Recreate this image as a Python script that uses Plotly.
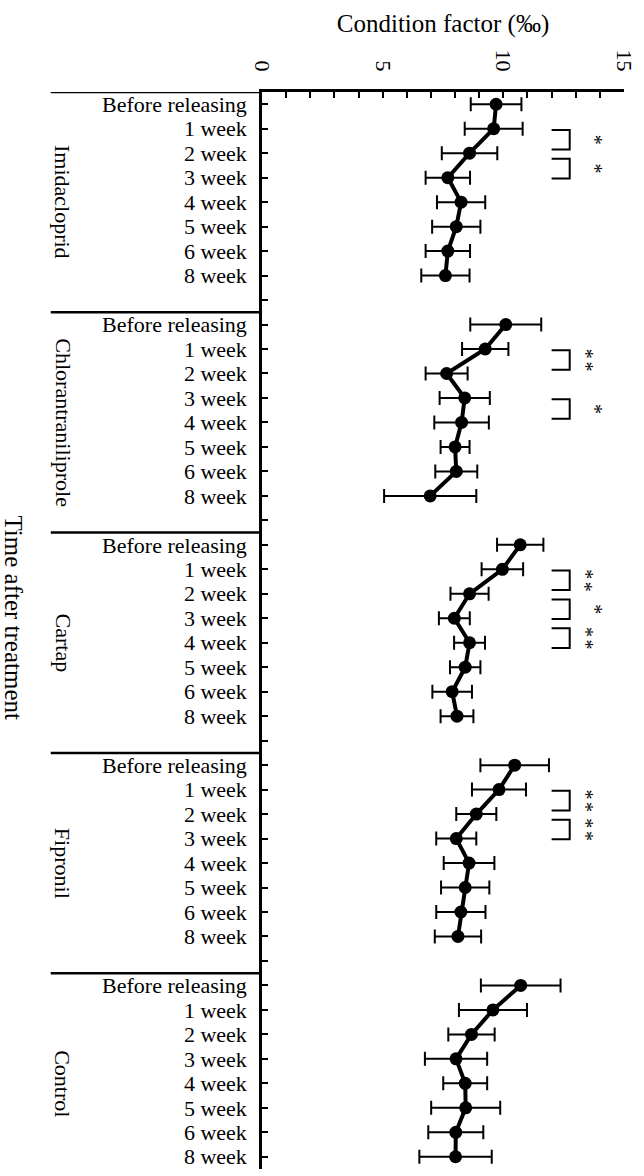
import plotly.graph_objects as go

# ---- data -------------------------------------------------------------
treatments = ["Imidacloprid", "Chlorantraniliprole", "Cartap", "Fipronil", "Control"]
timepoints = ["Before releasing", "1 week", "2 week", "3 week",
              "4 week", "5 week", "6 week", "8 week"]

cf_imidacloprid = [9.70, 9.60, 8.60, 7.70, 8.25, 8.05, 7.70, 7.60]
sd_imidacloprid = [1.05, 1.20, 1.15, 0.92, 1.00, 1.00, 0.92, 1.00]

cf_chlorantraniliprole = [10.10, 9.25, 7.65, 8.40, 8.27, 8.00, 8.05, 6.97]
sd_chlorantraniliprole = [1.47, 0.96, 0.87, 1.04, 1.13, 0.60, 0.87, 1.91]

cf_cartap = [10.70, 9.96, 8.60, 7.97, 8.60, 8.42, 7.88, 8.08]
sd_cartap = [0.96, 0.86, 0.79, 0.64, 0.64, 0.63, 0.82, 0.68]

cf_fipronil = [10.47, 9.82, 8.88, 8.05, 8.58, 8.42, 8.24, 8.12]
sd_fipronil = [1.42, 1.12, 0.83, 0.83, 1.05, 1.00, 1.02, 0.96]

cf_control = [10.72, 9.57, 8.68, 8.04, 8.42, 8.44, 8.03, 8.02]
sd_control = [1.65, 1.41, 0.96, 1.29, 0.91, 1.43, 1.14, 1.50]

# significant differences between consecutive time points: (from index, to index, mark)
sig_imidacloprid = [(1, 2, "*"), (2, 3, "*")]
sig_chlorantraniliprole = [(1, 2, "**"), (3, 4, "*")]
sig_cartap = [(1, 2, "**"), (2, 3, "*"), (3, 4, "**")]
sig_fipronil = [(1, 2, "**"), (2, 3, "**")]
sig_control = []

means = [cf_imidacloprid, cf_chlorantraniliprole, cf_cartap, cf_fipronil, cf_control]
sds = [sd_imidacloprid, sd_chlorantraniliprole, sd_cartap, sd_fipronil, sd_control]
sigs = [sig_imidacloprid, sig_chlorantraniliprole, sig_cartap, sig_fipronil, sig_control]

# ---- layout helpers -----------------------------------------------------
FONT = "Liberation Serif"
n_t = len(timepoints)
step = n_t + 1                      # one empty slot between treatment blocks
last_slot = step * len(treatments) - 2

W, H = 644, 1176
ML, MR, MT, MB = 262, 17, 92, 7
plot_w = W - ML - MR
left_edge = (49 - ML) / plot_w      # left end of the block separators (paper units)

fig = go.Figure()

tickvals, ticktext = [], []
for g, name in enumerate(treatments):
    base = g * step
    ys = [base + i for i in range(n_t)]
    fig.add_trace(go.Scatter(
        x=means[g], y=ys, mode="lines+markers",
        line=dict(color="black", width=4),
        marker=dict(color="black", size=13),
        error_x=dict(type="data", array=sds[g], symmetric=True,
                     color="black", thickness=2, width=7),
        name=name, hoverinfo="x+y",
    ))
    tickvals += ys
    ticktext += timepoints
    if base + n_t <= last_slot:
        tickvals.append(base + n_t)
        ticktext.append("")

    # treatment name, centred in its block
    fig.add_annotation(
        x=(60 - ML) / plot_w, xref="paper", y=base + (step - 1) / 2, yref="y",
        xshift=-13,
        text=name, textangle=90, showarrow=False,
        font=dict(family=FONT, size=22, color="#000000"),
    )

    # significance brackets and asterisks
    prev_end = None
    for a, b, mark in sigs[g]:
        y0 = base + a + 0.05
        if prev_end is not None and y0 < prev_end + 0.38:
            y0 = prev_end + 0.38
        y1 = y0 + 0.8
        prev_end = y1
        fig.add_shape(
            type="path", xref="x", yref="y",
            path=f"M 12.0 {y0} L 12.75 {y0} L 12.75 {y1} L 12.0 {y1}",
            line=dict(color="black", width=2),
        )
        n = len(mark)
        xs = 13.8 if n == 1 else 13.42
        for k in range(n):
            fig.add_annotation(
                x=xs, xref="x", y=(y0 + y1) / 2, yref="y",
                yshift=-(k - (n - 1) / 2) * 12.6,
                text="*", textangle=90, showarrow=False,
                font=dict(family=FONT, size=20, color="#000000"),
            )

# block separators on the category side
for g in range(len(treatments) + 1):
    ysep = g * step - 0.5
    fig.add_shape(type="line", xref="paper", yref="y",
                  x0=left_edge, x1=0, y0=ysep, y1=ysep,
                  line=dict(color="black", width=2.5))

fig.add_annotation(
    x=(9 - ML) / plot_w, xref="paper", y=(H - MB - 618) / (H - MT - MB), yref="paper",
    xshift=-13,
    text="Time after treatment", textangle=90, showarrow=False,
    font=dict(family=FONT, size=25, color="#000000"),
)

x_ticks = list(range(0, 16))
fig.update_layout(
    width=W, height=H,
    margin=dict(l=ML, r=MR, t=MT, b=MB),
    paper_bgcolor="white", plot_bgcolor="white",
    showlegend=False,
    font=dict(family=FONT, size=22, color="black"),
    xaxis=dict(
        side="top", range=[0, 15],
        tickvals=x_ticks, ticktext=[str(v) if v % 5 == 0 else "" for v in x_ticks],
        tickangle=90, ticks="inside", ticklen=6, tickwidth=2, tickcolor="black",
        showline=True, linewidth=2.5, linecolor="black",
        showgrid=False, zeroline=False,
        ticklabelstandoff=10,
        tickfont=dict(family=FONT, size=22),
        title=dict(text="Condition factor (‰)", standoff=10,
                   font=dict(family=FONT, size=25)),
    ),
    yaxis=dict(
        range=[last_slot + 0.5, -0.5],
        tickvals=tickvals, ticktext=ticktext,
        ticks="inside", ticklen=6, tickwidth=2, tickcolor="black",
        showline=True, linewidth=2.5, linecolor="black",
        showgrid=False, zeroline=False,
        ticklabelstandoff=8,
        tickfont=dict(family=FONT, size=22),
    ),
)

fig.write_html("out.html")
